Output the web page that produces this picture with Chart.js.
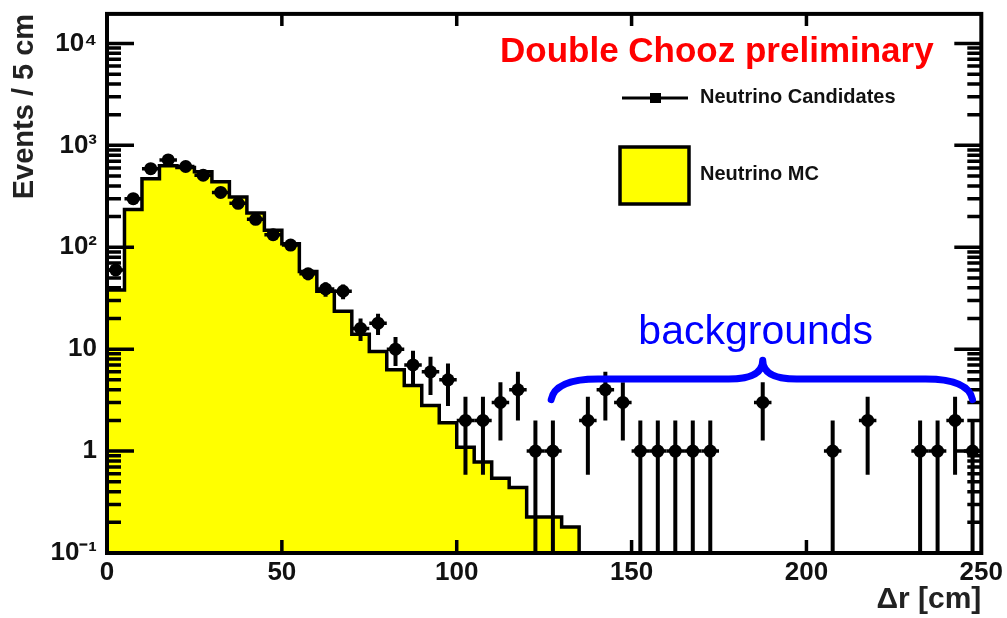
<!DOCTYPE html>
<html lang="en">
<head>
<meta charset="UTF-8">
<title>Double Chooz - Δr distribution</title>
<script src="https://cdn.jsdelivr.net/npm/chart.js@4.4.0/dist/chart.umd.min.js"></script>
<style>
  html, body { margin: 0; padding: 0; background: #fff; }
  #wrap { width: 1007px; height: 618px; }
</style>
</head>
<body>
<div id="wrap"><canvas id="dr"></canvas></div>
<script>
// 5 cm bins in delta-r, left edges
const binLow = [0, 5, 10, 15, 20, 25, 30, 35, 40, 45,
  50, 55, 60, 65, 70, 75, 80, 85, 90, 95,
  100, 105, 110, 115, 120, 125, 130, 135, 140, 145,
  150, 155, 160, 165, 170, 175, 180, 185, 190, 195,
  200, 205, 210, 215, 220, 225, 230, 235, 240, 245]
const binWidth = 5

// neutrino candidates, events per bin
const candidates = [60, 300, 590, 720, 620, 510, 345, 270, 188, 133,
  105, 55, 39, 37, 16, 18, 10, 7, 6, 5,
  2, 2, 3, 4, 1, 1, 0, 2, 4, 3,
  1, 1, 1, 1, 1, 0, 0, 3, 0, 0,
  0, 1, 0, 2, 0, 0, 1, 1, 2, 1]

// Monte Carlo expectation per bin (empty past 135 cm)
const mcPrediction = [38, 235, 470, 630, 605, 550, 440, 311, 217, 147,
  108, 58, 37, 23.5, 14, 9.5, 6.3, 4.4, 2.8, 1.9,
  1.09, 0.78, 0.54, 0.44, 0.226, 0.226, 0.18, 0, 0, 0,
  0, 0, 0, 0, 0, 0, 0, 0, 0, 0,
  0, 0, 0, 0, 0, 0, 0, 0, 0, 0]

const decadeLabels = ['10⁻¹', '1', '10', '10²', '10³', '10⁴']
const yMin = 0.1
const yMax = 19500

// stepped outline: each point holds its value up to the next edge
const mcPoints = []
let lastEdge = 0
mcPrediction.forEach((v, i) => {
  if (v > 0) {
    mcPoints.push({ x: binLow[i], y: v })
    lastEdge = binLow[i] + binWidth
  }
})
mcPoints.push({ x: lastEdge, y: yMin })

const dataPoints = []
candidates.forEach((n, i) => {
  if (n > 0) dataPoints.push({ x: binLow[i] + binWidth / 2, y: n })
})

const FONT = '"Liberation Sans", Arial, Helvetica, sans-serif'

// frame, inward ticks, error bars, legend and labels
const decorations = {
  id: 'decorations',
  afterDatasetsDraw(chart) {
    const { ctx, chartArea: a, scales: { x, y } } = chart

    // Poisson error bars on the candidates
    ctx.save()
    ctx.beginPath()
    ctx.rect(a.left, a.top, a.right - a.left, a.bottom - a.top)
    ctx.clip()
    ctx.strokeStyle = '#000'
    dataPoints.forEach(p => {
      const err = Math.sqrt(p.y)
      const px = x.getPixelForValue(p.x)
      const top = y.getPixelForValue(p.y + err)
      const bot = p.y - err > yMin ? y.getPixelForValue(p.y - err) : a.bottom
      ctx.lineWidth = 4
      ctx.beginPath()
      ctx.moveTo(px, top)
      ctx.lineTo(px, bot)
      ctx.stroke()
      const py = y.getPixelForValue(p.y)
      ctx.lineWidth = 3.5
      ctx.beginPath()
      ctx.moveTo(x.getPixelForValue(p.x - binWidth / 2), py)
      ctx.lineTo(x.getPixelForValue(p.x + binWidth / 2), py)
      ctx.stroke()
    })
    ctx.restore()

    ctx.save()
    ctx.strokeStyle = '#000'
    ctx.lineWidth = 3.5
    ctx.lineCap = 'butt'
    // y ticks on both sides, pointing in
    for (let d = -1; d <= 4; d++) {
      for (let m = 1; m <= 9; m++) {
        const v = m * Math.pow(10, d)
        if (v < yMin || v > yMax) continue
        const py = y.getPixelForValue(v)
        const len = m === 1 ? 27 : 14
        ctx.beginPath()
        ctx.moveTo(a.left, py); ctx.lineTo(a.left + len, py)
        ctx.moveTo(a.right, py); ctx.lineTo(a.right - len, py)
        ctx.stroke()
      }
    }
    // x ticks top and bottom
    x.ticks.forEach(t => {
      if (t.value <= x.min || t.value >= x.max) return
      const px = x.getPixelForValue(t.value)
      ctx.beginPath()
      ctx.moveTo(px, a.bottom); ctx.lineTo(px, a.bottom - 13)
      ctx.moveTo(px, a.top); ctx.lineTo(px, a.top + 12)
      ctx.stroke()
    })
    ctx.lineWidth = 4
    ctx.strokeRect(a.left, a.top, a.right - a.left, a.bottom - a.top)

    // title
    ctx.fillStyle = '#ff0000'
    ctx.font = 'bold 35px ' + FONT
    ctx.textBaseline = 'alphabetic'
    ctx.textAlign = 'left'
    ctx.fillText('Double Chooz preliminary', 500, 62)

    // legend
    ctx.strokeStyle = '#000'
    ctx.lineWidth = 3
    ctx.beginPath()
    ctx.moveTo(622, 98); ctx.lineTo(688, 98)
    ctx.stroke()
    ctx.fillStyle = '#000'
    ctx.fillRect(650, 93, 11, 10)
    ctx.fillStyle = '#ffff00'
    ctx.fillRect(620, 147, 69, 57)
    ctx.lineWidth = 3.5
    ctx.strokeRect(620, 147, 69, 57)
    ctx.fillStyle = '#111'
    ctx.font = 'bold 20px ' + FONT
    ctx.fillText('Neutrino Candidates', 700, 103)
    ctx.fillText('Neutrino MC', 700, 180)

    // brace over the flat tail
    const x0 = x.getPixelForValue(127), x1 = x.getPixelForValue(247.5)
    const xm = x.getPixelForValue(187.5)
    const yEnd = y.getPixelForValue(3.2), yBar = y.getPixelForValue(5.1)
    const yTip = y.getPixelForValue(7.8)
    ctx.strokeStyle = '#0000ff'
    ctx.lineWidth = 7
    ctx.lineCap = 'round'
    ctx.lineJoin = 'round'
    ctx.beginPath()
    ctx.moveTo(x0, yEnd)
    ctx.quadraticCurveTo(x0 + 4, yBar, x0 + 47, yBar)
    ctx.lineTo(xm - 34, yBar)
    ctx.quadraticCurveTo(xm, yBar, xm, yTip)
    ctx.quadraticCurveTo(xm, yBar, xm + 34, yBar)
    ctx.lineTo(x1 - 47, yBar)
    ctx.quadraticCurveTo(x1 - 4, yBar, x1, yEnd)
    ctx.stroke()
    ctx.fillStyle = '#0000ff'
    ctx.font = '41px ' + FONT
    ctx.textAlign = 'center'
    ctx.fillText('backgrounds', x.getPixelForValue(185.5), y.getPixelForValue(11.2))
    ctx.restore()
  }
}

new Chart(document.getElementById('dr'), {
  type: 'line',
  data: {
    datasets: [
      {
        label: 'Neutrino MC',
        data: mcPoints,
        stepped: 'before',
        borderColor: '#000',
        borderWidth: 3.5,
        backgroundColor: '#ffff00',
        fill: 'start',
        pointRadius: 0,
        order: 2
      },
      {
        label: 'Neutrino Candidates',
        data: dataPoints,
        showLine: false,
        pointStyle: 'circle',
        pointRadius: 6.5,
        pointBackgroundColor: '#000',
        pointBorderColor: '#000',
        pointBorderWidth: 0,
        order: 1
      }
    ]
  },
  options: {
    responsive: true,
    maintainAspectRatio: false,
    animation: false,
    layout: { padding: { top: 11, right: 25, left: 0, bottom: 0 } },
    plugins: {
      legend: { display: false },
      tooltip: { enabled: false }
    },
    scales: {
      x: {
        type: 'linear',
        min: 0,
        max: 250,
        grid: { display: false, drawTicks: false },
        border: { display: false },
        ticks: {
          stepSize: 50,
          maxRotation: 0,
          padding: 4,
          color: '#111',
          font: { family: FONT, size: 26, weight: 'bold' }
        },
        title: {
          display: true,
          text: 'Δr [cm]',
          align: 'end',
          color: '#222',
          padding: { top: 0, bottom: 0 },
          font: { family: FONT, size: 30, weight: 'bold' }
        },
        afterFit: s => { s.height = 65 }
      },
      y: {
        type: 'logarithmic',
        min: yMin,
        max: yMax,
        grid: { display: false, drawTicks: false },
        border: { display: false },
        ticks: {
          autoSkip: false,
          padding: 10,
          color: '#111',
          font: { family: FONT, size: 26, weight: 'bold', lineHeight: 0.3 },
          callback: v => {
            const e = Math.log10(v)
            if (Math.abs(e - Math.round(e)) > 1e-6) return ''
            return decadeLabels[Math.round(e) + 1] || ''
          }
        },
        title: {
          display: true,
          text: 'Events / 5 cm',
          align: 'end',
          color: '#222',
          padding: { top: 8, bottom: 0 },
          font: { family: FONT, size: 29, weight: 'bold' }
        },
        afterFit: s => { s.width = 107 }
      }
    }
  },
  plugins: [decorations]
})
</script>
</body>
</html>
